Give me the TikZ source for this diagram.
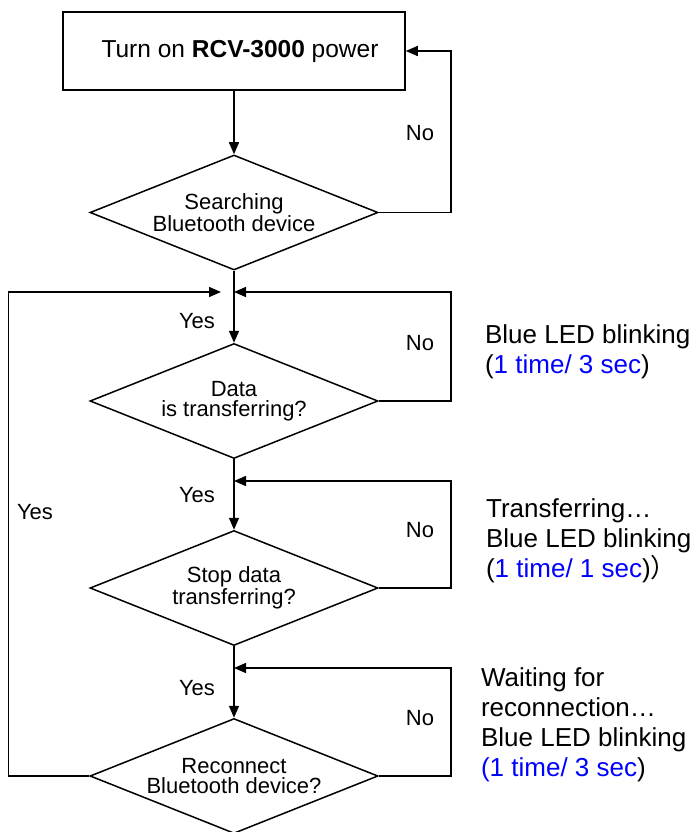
\documentclass[tikz,border=0pt]{standalone}
\usepackage{fontspec}
\setmainfont{Liberation Sans}
\newfontfamily\cjk{Noto Sans CJK SC}
\usetikzlibrary{shapes.geometric, arrows.meta}

\begin{document}
\begin{tikzpicture}[x=1pt, y=-1pt, line width=1.5pt,
  every node/.style={font=\fontsize{22}{20.5}\selectfont},
  stepbox/.style={draw, rectangle, minimum width=342pt, minimum height=78pt, font=\fontsize{24.5}{26}\selectfont},
  ask/.style={draw, diamond, aspect=2.5, inner sep=0pt, minimum width=288pt, minimum height=115pt, align=center},
  arr/.style={-{Triangle[length=12pt, width=10pt]}},
  note/.style={anchor=west, align=left, font=\fontsize{26}{30}\selectfont}]
\useasboundingbox (0,0) rectangle (697,832);
% Draw boxes
\node[stepbox] (power) at (234,51) {\hspace{12pt}Turn on \textbf{RCV-3000} power};
\node[ask] (search) at (234,212.5) {Searching\\Bluetooth device};
\node[ask] (data) at (234,401) {Data\\is transferring?};
\node[ask] (stop) at (234,588) {Stop data\\transferring?};
\node[ask] (reconn) at (234,776) {Reconnect\\Bluetooth device?};
\coordinate (j1) at (234,292);
\coordinate (j2) at (234,481);
\coordinate (j3) at (234,668);
% Draw connectors
\draw[arr] (power) -- (search);
\draw[arr] (search.east) -- ++(72,0) |- (power.east);
\draw[arr] (search) -- (data);
\draw[arr] (data.east) -- ++(72,0) |- (j1);
\draw[arr] (data) -- (stop);
\draw[arr] (stop.east) -- ++(72,0) |- (j2);
\draw[arr] (stop) -- (reconn);
\draw[arr] (reconn.east) -- ++(72,0) |- (j3);
\draw[arr] (reconn.west) -- ++(-81,0) |- ([xshift=-13pt]j1);
% Draw labels
\node (no1) at (420,133) {No};
\node (no2) at (420,343) {No};
\node (no3) at (420,530) {No};
\node (no4) at (420,718) {No};
\node (yes1) at (197,321) {Yes};
\node (yes2) at (197,495) {Yes};
\node (yes3) at (197,688) {Yes};
\node (yes4) at (35,512) {Yes};
% Draw notes
\node[note] (led1) at (481,352) {Blue LED blinking\\(\textcolor{blue}{1 time/ 3 sec})};
\node[note] (led2) at (482,541) {Transferring…\\Blue LED blinking\\(\textcolor{blue}{1 time/ 1 sec}){\cjk ）}};
\node[note] (led3) at (477,725) {Waiting for\\reconnection…\\Blue LED blinking\\\textcolor{blue}{(1 time/ 3 sec})};
\end{tikzpicture}
\end{document}
